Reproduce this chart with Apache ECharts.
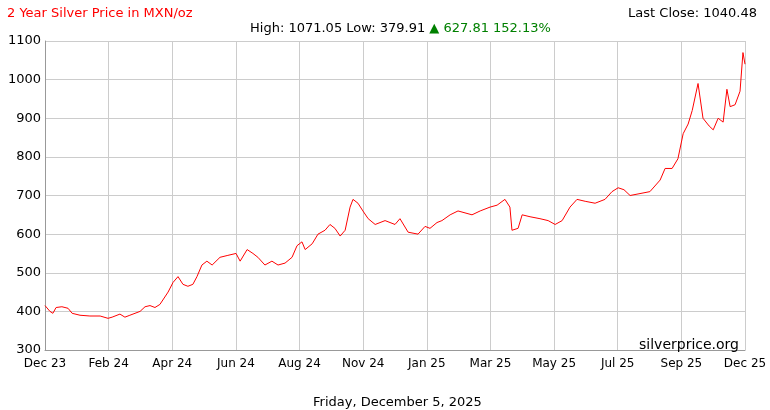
<!DOCTYPE html>
<html><head><meta charset="utf-8">
<script src="https://cdn.jsdelivr.net/npm/echarts@6/dist/echarts.min.js"></script>
<style>body{margin:0}#c{width:770px;height:410px}</style></head>
<body><div id="c"></div>
<script>
const xLabels=['Dec 23','Feb 24','Apr 24','Jun 24','Aug 24','Nov 24','Jan 25','Mar 25','May 25','Jul 25','Sep 25','Dec 25'];
// [months since Dec 2023 (0..24), price MXN/oz]
const pricePoints=[
[0,415],[.17,400],[.27,395],[.38,410],[.58,412],[.79,408],[.93,395],[1.2,390],[1.54,388],[1.89,388],
[2.16,382],[2.3,385],[2.57,393],[2.74,385],[2.91,390],[3.26,400],[3.43,412],[3.6,415],[3.77,410],[3.94,418],
[4.22,450],[4.39,475],[4.56,490],[4.73,470],[4.9,465],[5.07,470],[5.21,490],[5.38,520],[5.55,530],[5.73,520],
[6.0,540],[6.27,545],[6.55,550],[6.69,530],[6.93,560],[7.13,550],[7.3,540],[7.54,520],[7.78,530],[7.99,520],
[8.23,525],[8.47,540],[8.64,570],[8.81,580],[8.92,560],[9.16,575],[9.36,600],[9.6,610],[9.77,625],[9.94,615],
[10.12,595],[10.29,610],[10.46,670],[10.56,690],[10.73,680],[10.9,660],[11.08,640],[11.32,625],[11.66,635],[12.0,625],
[12.17,640],[12.45,605],[12.79,600],[13.03,620],[13.2,615],[13.44,630],[13.61,635],[13.89,650],[14.16,660],[14.4,655],
[14.64,650],[14.92,660],[15.26,670],[15.5,675],[15.77,690],[15.94,670],[16.01,610],[16.22,615],[16.36,650],[16.63,645],
[16.97,640],[17.25,635],[17.49,625],[17.73,635],[18.0,670],[18.24,690],[18.52,685],[18.86,680],[19.2,690],[19.44,710],
[19.65,720],[19.85,715],[20.06,700],[20.4,705],[20.74,710],[21.09,740],[21.26,770],[21.5,770],[21.7,795],[21.88,860],
[22.05,885],[22.19,920],[22.39,990],[22.56,900],[22.77,880],[22.91,870],[23.08,900],[23.25,890],[23.38,975],[23.49,930],
[23.66,935],[23.83,970],[23.93,1070],[24,1040]];
const data=pricePoints.map(p=>[p[0]*22/24,p[1]]);
const F='DejaVu Sans';
echarts.init(document.getElementById('c')).setOption({
animation:false,
grid:{left:45,right:25,top:41,bottom:60},
title:[
{text:'2 Year Silver Price in MXN/oz',left:2,top:2,textStyle:{color:'#ff0000',fontSize:13,fontWeight:'normal',fontFamily:F}},
{text:'Last Close: 1040.48',right:8,top:2,textStyle:{color:'#000',fontSize:13,fontWeight:'normal',fontFamily:F}},
{text:'{a|High: 1071.05 Low: 379.91 }{g|▲ 627.81 152.13%}',left:245,top:17,textStyle:{fontSize:13,fontFamily:F,fontWeight:'normal',rich:{a:{color:'#000',fontSize:13,fontFamily:F,fontWeight:'normal'},g:{color:'#008000',fontSize:13,fontFamily:F,fontWeight:'normal'}}}},
{text:'silverprice.org',right:26,top:333,textStyle:{color:'#000',fontSize:14,fontWeight:'normal',fontFamily:F}},
{text:'Friday, December 5, 2025',left:308,top:391,textStyle:{color:'#000',fontSize:13,fontWeight:'normal',fontFamily:F}}
],
xAxis:{type:'value',min:0,max:22,interval:2,
axisLine:{show:true,lineStyle:{color:'#999'}},axisTick:{show:false},
splitLine:{show:true,lineStyle:{color:'#ccc'}},
axisLabel:{fontFamily:F,fontSize:12,color:'#000',margin:8,formatter:v=>xLabels[Math.round(v/2)]}},
yAxis:{type:'value',min:300,max:1100,interval:100,
axisLine:{show:true,lineStyle:{color:'#999'}},axisTick:{show:false},
splitLine:{show:true,lineStyle:{color:'#ccc'}},
axisLabel:{fontFamily:F,fontSize:13,color:'#000',margin:4,formatter:v=>String(v)}},
series:[{type:'line',data:data,symbol:'none',lineStyle:{color:'#ff0000',width:1}}]
});
</script></body></html>
